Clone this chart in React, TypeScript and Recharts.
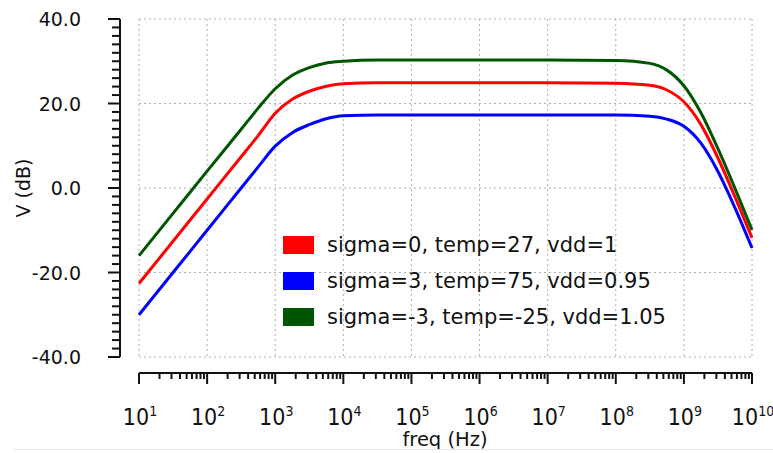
import { LineChart, Line, XAxis, YAxis, CartesianGrid, Legend } from "recharts";

// frequency points (Hz) and gain (dB)
const freqs = [
  10, 31.62, 100, 316.2, 562.3, 1000, 1778, 3162, 5623, 1e4, 3.162e4, 1e5, 1e6,
  1e7, 1e8, 3.162e8, 5.623e8, 1e9, 1.778e9, 3.162e9, 5.623e9, 1e10,
];
const sigma0 = [
  -22.6, -12.6, -2.6, 7.4, 12.4, 17.7, 21.0, 22.9, 24.1, 24.7, 24.9, 24.9, 24.9,
  24.9, 24.8, 24.3, 23.2, 20.4, 15.0, 7.1, -2.1, -11.8,
];
const sigma3 = [
  -30.0, -20.0, -10.0, 0.0, 5.0, 9.9, 13.1, 15.0, 16.4, 17.1, 17.3, 17.3, 17.3,
  17.3, 17.3, 17.0, 16.3, 14.6, 10.6, 3.9, -4.7, -14.2,
];
const sigmaNeg3 = [
  -16.0, -6.0, 4.0, 13.9, 18.9, 23.5, 26.7, 28.5, 29.6, 30.0, 30.3, 30.3, 30.3,
  30.3, 30.2, 29.5, 27.9, 24.2, 17.8, 9.3, -0.1, -9.9,
];

const decadeTicks = [1e1, 1e2, 1e3, 1e4, 1e5, 1e6, 1e7, 1e8, 1e9, 1e10];
const minorMults = [2, 3, 4, 5, 6, 7, 8, 9];
const dbLabels = [-40, -20, 0, 20, 40];

const series = [
  { key: "s0", name: "sigma=0, temp=27, vdd=1", color: "#ff0000", values: sigma0 },
  { key: "s3", name: "sigma=3, temp=75, vdd=0.95", color: "#0000ff", values: sigma3 },
  { key: "sm3", name: "sigma=-3, temp=-25, vdd=1.05", color: "#005500", values: sigmaNeg3 },
];

const data = freqs.map((f, i) => {
  const row: Record<string, number> = { freq: f };
  series.forEach((s) => (row[s.key] = s.values[i]));
  return row;
});

const xTicks: number[] = [];
decadeTicks.forEach((d, i) => {
  xTicks.push(d);
  if (i < decadeTicks.length - 1) minorMults.forEach((m) => xTicks.push(d * m));
});
const yTicks: number[] = [];
for (let v = -40; v <= 40; v += 2) yTicks.push(v);

const W = 773;
const H = 453;
const PLOT_RIGHT = 752;
const PLOT_TOP = 19;
const PLOT_BOTTOM = 357;
const Y_AXIS_X = 120;
const X_AXIS_Y = 373;
const FONT = "'DejaVu Sans', sans-serif";
const NARROW = "'Liberation Sans Narrow', 'DejaVu Sans Condensed', 'Liberation Sans', sans-serif";

function FreqTick({ x, payload, index }: any) {
  const v = payload.value as number;
  const lg = Math.log10(v);
  const exp = Math.round(lg);
  const major = Math.abs(lg - exp) < 1e-6;
  return (
    <g>
      {index === 0 && (
        <line x1={x} x2={PLOT_RIGHT} y1={X_AXIS_Y} y2={X_AXIS_Y} stroke="#111" strokeWidth={2} />
      )}
      <line x1={x} x2={x} y1={X_AXIS_Y} y2={X_AXIS_Y + (major ? 11 : 6)} stroke="#111" strokeWidth={2} />
      {major && (
        <text x={x + 1} y={425} textAnchor="middle" fontFamily={NARROW} fontSize={23} fill="#111">
          10
          <tspan dy={-9} fontSize={14}>
            {exp}
          </tspan>
        </text>
      )}
    </g>
  );
}

function DbTick({ y, payload }: any) {
  const v = payload.value as number;
  const major = dbLabels.includes(v);
  return (
    <g>
      {v === 40 && (
        <line x1={Y_AXIS_X} x2={Y_AXIS_X} y1={y} y2={PLOT_BOTTOM} stroke="#111" strokeWidth={2} />
      )}
      <line x1={Y_AXIS_X - (major ? 12 : 8)} x2={Y_AXIS_X} y1={y} y2={y} stroke="#111" strokeWidth={2} />
      {major && (
        <text x={81} y={y + 7} textAnchor="end" fontFamily={FONT} fontSize={19} fill="#111">
          {v.toFixed(1)}
        </text>
      )}
    </g>
  );
}

function YTitle() {
  return (
    <text
      x={0}
      y={0}
      transform="translate(30 188) rotate(-90)"
      textAnchor="middle"
      fontFamily={FONT}
      fontSize={19}
      fill="#111"
    >
      V (dB)
    </text>
  );
}

function XTitle() {
  return (
    <text x={445} y={446} textAnchor="middle" fontFamily={FONT} fontSize={19.5} fill="#111">
      freq (Hz)
    </text>
  );
}

function LegendBox() {
  return (
    <div style={{ fontFamily: FONT, fontSize: 21, color: "#111" }}>
      {series.map((s) => (
        <div key={s.key} style={{ display: "flex", alignItems: "center", height: 36 }}>
          <span
            style={{
              display: "inline-block",
              width: 31,
              height: 18,
              background: s.color,
              marginRight: 13,
            }}
          />
          <span style={{ whiteSpace: "nowrap" }}>{s.name}</span>
        </div>
      ))}
    </div>
  );
}

export default function App() {
  return (
    <div style={{ position: "absolute", left: 0, top: 0, width: W, height: H, background: "#fff" }}>
      <LineChart
        width={W}
        height={H}
        data={data}
        margin={{ top: PLOT_TOP, right: W - PLOT_RIGHT, bottom: 0, left: 0 }}
      >
        <CartesianGrid
          stroke="#b0b0b0"
          strokeDasharray="2 3"
          verticalValues={decadeTicks}
          horizontalValues={dbLabels}
        />
        <XAxis
          dataKey="freq"
          type="number"
          scale="log"
          domain={[10, 1e10]}
          ticks={xTicks}
          interval={0}
          height={H - PLOT_BOTTOM}
          axisLine={false}
          tickLine={false}
          tick={<FreqTick />}
          label={<XTitle />}
        />
        <YAxis
          type="number"
          domain={[-40, 40]}
          ticks={yTicks}
          interval={0}
          width={139}
          axisLine={false}
          tickLine={false}
          tick={<DbTick />}
          label={<YTitle />}
        />
        <Legend
          layout="vertical"
          align="center"
          verticalAlign="middle"
          wrapperStyle={{ left: 283, top: 227, width: "auto" }}
          content={<LegendBox />}
        />
        {series.map((s) => (
          <Line
            key={s.key}
            dataKey={s.key}
            name={s.name}
            stroke={s.color}
            strokeWidth={3}
            dot={false}
            type="monotone"
            isAnimationActive={false}
          />
        ))}
      </LineChart>
      <div
        style={{ position: "absolute", left: 14, top: 449, width: W - 14, height: 1, background: "#e6e6e6" }}
      />
    </div>
  );
}
